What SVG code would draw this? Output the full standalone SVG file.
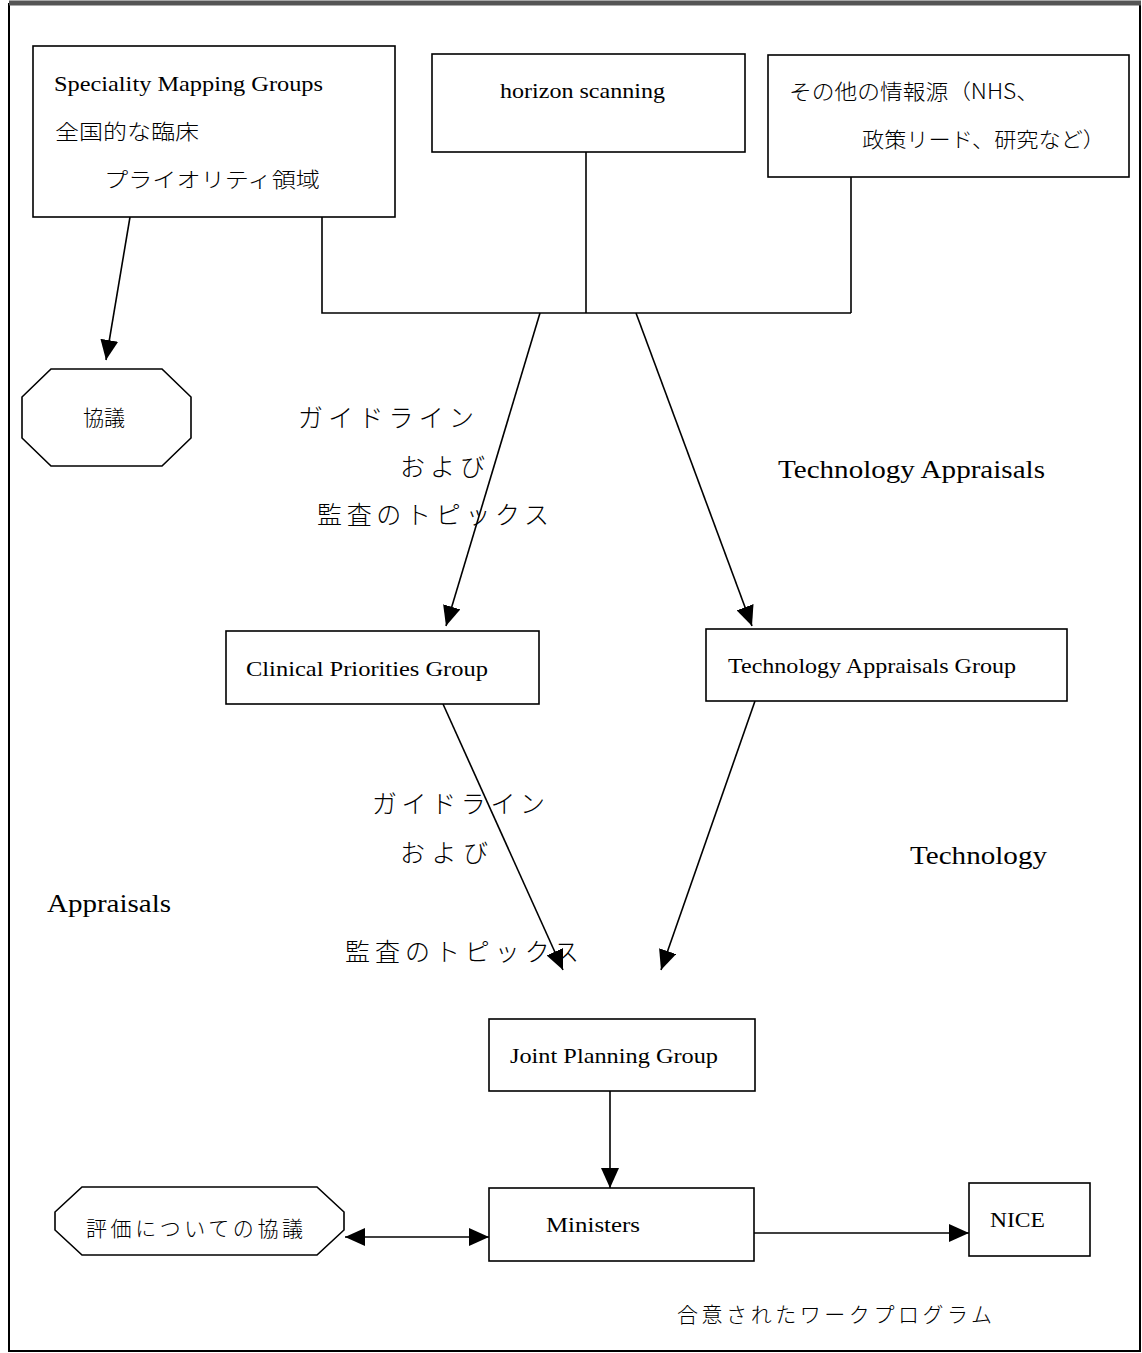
<svg xmlns="http://www.w3.org/2000/svg" width="1142" height="1353" viewBox="0 0 1142 1353">
<style>
.box{fill:#fff;stroke:#000;stroke-width:1.6}
.ln{fill:none;stroke:#000;stroke-width:1.6}
.t{font-family:"Liberation Serif","Noto Sans CJK JP",serif;fill:#000}
.s20{font-size:21px}
.s26{font-size:26px}
.j{font-family:"Noto Sans CJK JP","Liberation Serif",serif;font-weight:300;fill:#000}
</style>
<defs>
<marker id="ah" viewBox="0 0 20 18" refX="20" refY="9" markerWidth="20" markerHeight="18" markerUnits="userSpaceOnUse" orient="auto-start-reverse">
<path d="M0,0 L20,9 L0,18 Z" fill="#000"/>
</marker>
</defs>
<rect x="0" y="0" width="1142" height="1353" fill="#fff"/>
<rect x="9" y="4" width="1131" height="1347" fill="none" stroke="#000" stroke-width="2"/>
<line x1="9" y1="3" x2="1141" y2="3" stroke="#555" stroke-width="5"/>

<g id="connectors">
<polyline class="ln" points="322,217 322,313 851,313"/>
<line class="ln" x1="586" y1="142" x2="586" y2="313"/>
<line class="ln" x1="851" y1="168" x2="851" y2="313"/>
<line class="ln" x1="130" y1="217" x2="106" y2="360" marker-end="url(#ah)"/>
<line class="ln" x1="540" y1="313" x2="446" y2="626" marker-end="url(#ah)"/>
<line class="ln" x1="636" y1="313" x2="752" y2="626" marker-end="url(#ah)"/>
<line class="ln" x1="443" y1="704" x2="563" y2="970" marker-end="url(#ah)"/>
<line class="ln" x1="755" y1="701" x2="661" y2="970" marker-end="url(#ah)"/>
<line class="ln" x1="610" y1="1091" x2="610" y2="1188" marker-end="url(#ah)"/>
<line class="ln" x1="345" y1="1237" x2="489" y2="1237" marker-start="url(#ah)" marker-end="url(#ah)"/>
<line class="ln" x1="754" y1="1233" x2="969" y2="1233" marker-end="url(#ah)"/>
</g>

<g id="speciality">
<rect class="box" x="33" y="46" width="362" height="171"/>
<text class="t s20" x="54" y="91" textLength="269" lengthAdjust="spacingAndGlyphs">Speciality Mapping Groups</text>
<text class="j" x="55" y="139" font-size="21" textLength="144" lengthAdjust="spacingAndGlyphs">全国的な臨床</text>
<text class="j" x="104" y="187" font-size="21" textLength="216" lengthAdjust="spacingAndGlyphs">プライオリティ領域</text>
</g>

<g id="horizon">
<rect class="box" x="432" y="54" width="313" height="98"/>
<text class="t s20" x="500" y="98" textLength="165" lengthAdjust="spacingAndGlyphs">horizon scanning</text>
</g>

<g id="other-sources">
<rect class="box" x="768" y="55" width="361" height="122"/>
<text class="j" x="789" y="99" font-size="21" textLength="250" lengthAdjust="spacingAndGlyphs">その他の情報源（NHS、</text>
<text class="j" x="862" y="147" font-size="21" textLength="243" lengthAdjust="spacingAndGlyphs">政策リード、研究など）</text>
</g>

<g id="consult">
<polygon class="box" points="51,369 162,369 191,397 191,438 162,466 51,466 22,438 22,397"/>
<text class="j" x="104" y="425" font-size="21" text-anchor="middle">協議</text>
</g>

<g id="label-guidelines-1">
<text class="j" x="298" y="427" font-size="25" textLength="176" lengthAdjust="spacing">ガイドライン</text>
<text class="j" x="400" y="476" font-size="25" textLength="85" lengthAdjust="spacing">および</text>
<text class="j" x="317" y="524" font-size="25" textLength="232" lengthAdjust="spacing">監査のトピックス</text>
</g>

<g id="label-tech-1">
<text class="t s26" x="778" y="478" textLength="267" lengthAdjust="spacingAndGlyphs">Technology Appraisals</text>
</g>

<g id="clinical">
<rect class="box" x="226" y="631" width="313" height="73"/>
<text class="t s20" x="246" y="676" textLength="242" lengthAdjust="spacingAndGlyphs">Clinical Priorities Group</text>
</g>

<g id="tech-group">
<rect class="box" x="706" y="629" width="361" height="72"/>
<text class="t s20" x="728" y="673" textLength="288" lengthAdjust="spacingAndGlyphs">Technology Appraisals Group</text>
</g>

<g id="label-guidelines-2">
<text class="j" x="372" y="813" font-size="25" textLength="173" lengthAdjust="spacing">ガイドライン</text>
<text class="j" x="400" y="862" font-size="25" textLength="88" lengthAdjust="spacing">および</text>
<text class="j" x="345" y="961" font-size="25" textLength="234" lengthAdjust="spacing">監査のトピックス</text>
</g>

<g id="label-tech-2">
<text class="t s26" x="910" y="864" textLength="137" lengthAdjust="spacingAndGlyphs">Technology</text>
<text class="t s26" x="47" y="912" textLength="124" lengthAdjust="spacingAndGlyphs">Appraisals</text>
</g>

<g id="joint">
<rect class="box" x="489" y="1019" width="266" height="72"/>
<text class="t s20" x="510" y="1063" textLength="208" lengthAdjust="spacingAndGlyphs">Joint Planning Group</text>
</g>

<g id="ministers">
<rect class="box" x="489" y="1188" width="265" height="73"/>
<text class="t s20" x="546" y="1232" textLength="94" lengthAdjust="spacingAndGlyphs">Ministers</text>
</g>

<g id="consult-eval">
<polygon class="box" points="82,1187 317,1187 344,1212 344,1230 317,1255 82,1255 55,1230 55,1212"/>
<text class="j" x="86" y="1236" font-size="21" textLength="217" lengthAdjust="spacing">評価についての協議</text>
</g>

<g id="nice">
<rect class="box" x="969" y="1183" width="121" height="73"/>
<text class="t s20" x="990" y="1227" textLength="55" lengthAdjust="spacingAndGlyphs">NICE</text>
</g>

<g id="label-agreed">
<text class="j" x="677" y="1322" font-size="21" textLength="315" lengthAdjust="spacing">合意されたワークプログラム</text>
</g>
</svg>
